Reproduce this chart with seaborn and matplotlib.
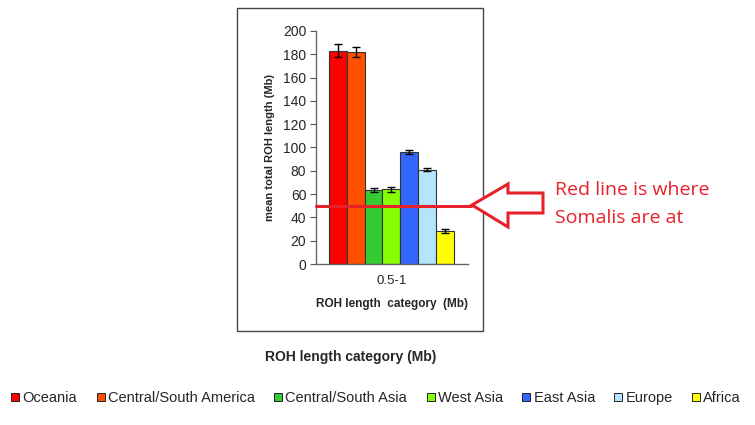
import matplotlib
matplotlib.use("Agg")
import matplotlib.pyplot as plt
import seaborn as sns
import pandas as pd
import numpy as np
from matplotlib.patches import Rectangle, Polygon
from matplotlib.lines import Line2D

regions = ["Oceania", "Central/South America", "Central/South Asia", "West Asia",
           "East Asia", "Europe", "Africa"]
means = [183, 182, 63.5, 64, 96, 81, 28.5]
errors = [5.5, 4, 1.5, 2.5, 1.5, 1.5, 1.5]
colors = ["#FF0000", "#FF5000", "#33CC33", "#88FF00", "#3366FF", "#B3E5FF", "#FFFF00"]
category = ["0.5-1"]
somali_level = 50
yticks = [0, 20, 40, 60, 80, 100, 120, 140, 160, 180, 200]

sns.set_theme(style="white")
plt.rcParams["font.family"] = ["Liberation Sans", "DejaVu Sans"]

W, H = 755, 425
fig = plt.figure(figsize=(W / 100, H / 100), dpi=100)

def fx(px):
    return px / W

def fy(py):
    return 1 - py / H

# outer box
fig.patches.append(Rectangle((fx(237), fy(331)), fx(483) - fx(237), fy(8) - fy(331),
                             transform=fig.transFigure, fill=False,
                             edgecolor="#444444", linewidth=1.0))

ax = fig.add_axes([fx(316), fy(264), fx(468) - fx(316), fy(31) - fy(264)])

df = pd.DataFrame({"category": category * len(regions), "region": regions, "mean": means})
sns.barplot(data=df, x="category", y="mean", hue="region", hue_order=regions,
            palette=colors, ax=ax, width=0.8, edgecolor="#333333", linewidth=0.8,
            errorbar=None, legend=False, saturation=1)

bars = [p for p in ax.patches if isinstance(p, Rectangle)][:len(regions)]
for p, e in zip(bars, errors):
    cx = p.get_x() + p.get_width() / 2
    ax.errorbar(cx, p.get_height(), yerr=e, fmt="none", ecolor="black",
                elinewidth=1.0, capsize=3, capthick=1.0, zorder=5)

ax.set_ylim(0, 200)
ax.set_xlim(-0.483, 0.491)
ax.set_yticks(yticks)
ax.set_yticklabels([str(t) for t in yticks], fontsize=10)
ax.tick_params(axis="y", length=4, width=0.8, color="#555555", direction="out", left=True, pad=3)
ax.tick_params(axis="x", length=0, labelsize=9.5, pad=8)
for s in ["top", "right"]:
    ax.spines[s].set_visible(False)
for s in ["left", "bottom"]:
    ax.spines[s].set_color("#666666")
    ax.spines[s].set_linewidth(1.0)
ax.set_ylabel("mean total ROH length (Mb)", fontsize=8, fontweight="bold", labelpad=6)
ax.set_xlabel("ROH length  category  (Mb)", fontsize=8.5, fontweight="bold", labelpad=8)

# red line
trans = matplotlib.transforms.blended_transform_factory(ax.transAxes, ax.transData)
ax.plot([0, 1.02], [somali_level, somali_level], color="#E8202A", linewidth=2.2,
        transform=trans, clip_on=False, zorder=6)

# arrow
pts = [(472, 205), (508, 184), (508, 193), (543, 193), (543, 213), (508, 213), (508, 227)]
fig.patches.append(Polygon([(fx(x), fy(y)) for x, y in pts], closed=True,
                           transform=fig.transFigure, facecolor="white",
                           edgecolor="#E8202A", linewidth=2.2, zorder=7))
fig.text(fx(555), fy(190), "Red line is where", color="#E8202A", fontsize=14,
         family=["Open Sans", "DejaVu Sans"], va="center", ha="left")
fig.text(fx(555), fy(218), "Somalis are at", color="#E8202A", fontsize=14,
         family=["Open Sans", "DejaVu Sans"], va="center", ha="left")

fig.text(fx(351), fy(357), "ROH length category (Mb)", fontsize=10, fontweight="bold",
         ha="center", va="center")

handles = [Line2D([], [], marker="s", linestyle="none", markersize=5.5,
                  markerfacecolor=c, markeredgecolor="#222222", markeredgewidth=0.7)
           for c in colors]
fig.legend(handles, regions, loc="center", bbox_to_anchor=(fx(376), fy(398)), ncol=7,
           frameon=False, fontsize=10.5, handlelength=0.6, handletextpad=0.2,
           columnspacing=1.3, borderaxespad=0)

fig.savefig("out.png", dpi=100)
